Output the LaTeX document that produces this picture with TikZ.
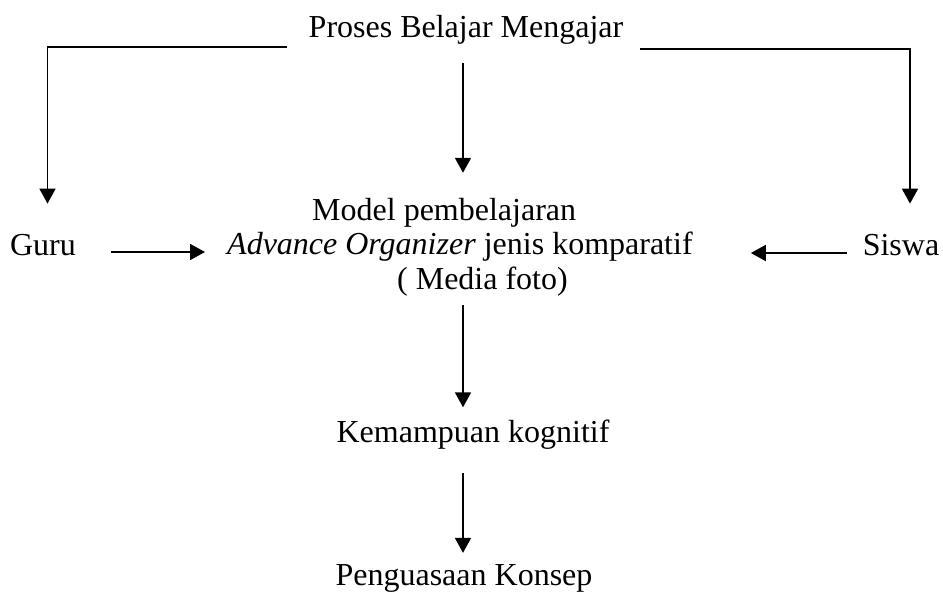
\documentclass[tikz,border=0pt]{standalone}
\usepackage{fontspec}
\setmainfont{Liberation Serif}
\usetikzlibrary{arrows.meta}
\begin{document}
\begin{tikzpicture}[x=1pt,y=-1pt,
  lbl/.style={inner sep=0pt, font=\fontsize{32}{34.5}\selectfont, anchor=base},
  arr/.style={-{Triangle[length=15pt,width=16pt]}, line width=1.8pt}]
\useasboundingbox (0,0) rectangle (943,592);
\node[lbl] (proses) at (466,37) {Proses Belajar Mengajar};
\node[lbl] (guru) at (43,255) {Guru};
\node[lbl] (siswa) at (901,255) {Siswa};
\node[lbl, align=left, anchor=west] (model) at (227,247)
  {\hspace*{85pt}Model pembelajaran\\\textit{Advance Organizer} jenis komparatif\\\hspace*{170pt}( Media foto)};
\node[lbl] (kem) at (473,442) {Kemampuan kognitif};
\node[lbl] (peng) at (464,585) {Penguasaan Konsep};
\coordinate (axis) at ([xshift=-3pt]proses.base);
% top branches
\draw[arr] ([xshift=-22pt,yshift=-10pt]proses.base west) -| ([xshift=4.5pt,yshift=30pt]guru.north);
\draw[arr] ([xshift=17pt,yshift=-12pt]proses.base east) -| ([xshift=9pt,yshift=30pt]siswa.north);
\draw[arr] ([yshift=-26pt]axis) -- ([yshift=25pt]axis |- model.north);
% side arrows
\draw[arr] ([xshift=35pt,yshift=3pt]guru.base east) -- ([xshift=-22pt,yshift=-5pt]model.west);
\draw[arr] ([xshift=-16pt,yshift=2pt]siswa.base west) -- ([xshift=58pt,yshift=-6pt]model.east);
% lower chain
\draw[arr] ([yshift=-9pt]axis |- model.south) -- ([yshift=12pt]axis |- kem.north);
\draw[arr] ([yshift=-24pt]axis |- kem.south) -- ([yshift=11pt]axis |- peng.north);
\end{tikzpicture}
\end{document}
